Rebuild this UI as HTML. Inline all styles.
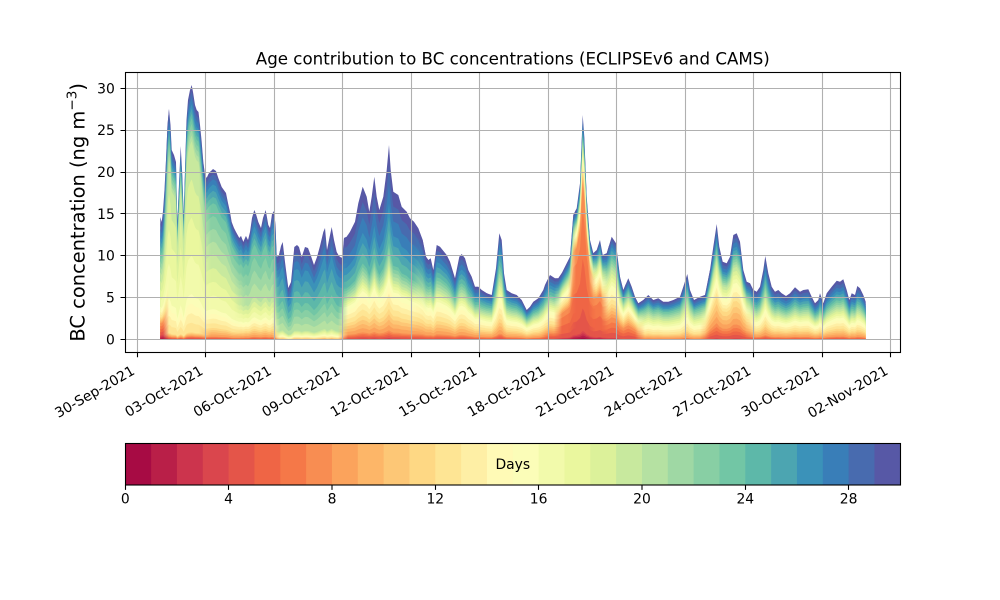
<!DOCTYPE html>
<html><head><meta charset="utf-8"><style>
html,body{margin:0;padding:0;background:#fff}
svg{display:block;font-family:"DejaVu Sans","Liberation Sans",sans-serif}
.k0{fill:#a70b44}.k1{fill:#b91f48}.k2{fill:#cc344d}.k3{fill:#da464d}.k4{fill:#e45549}.k5{fill:#ef6545}.k6{fill:#f57848}.k7{fill:#f88d52}.k8{fill:#fba35c}.k9{fill:#fdb668}.k10{fill:#fdc776}.k11{fill:#fed884}.k12{fill:#fee594}.k13{fill:#feefa5}.k14{fill:#fffab6}.k15{fill:#fbfdb8}.k16{fill:#f2faab}.k17{fill:#eaf79e}.k18{fill:#dcf19a}.k19{fill:#c8e99e}.k20{fill:#b5e1a2}.k21{fill:#9fd8a4}.k22{fill:#88cfa4}.k23{fill:#72c6a5}.k24{fill:#5db8a9}.k25{fill:#4ca5b1}.k26{fill:#3b92b9}.k27{fill:#397eb8}.k28{fill:#486baf}.k29{fill:#5758a6}
</style></head><body>
<svg width="1000" height="600" viewBox="0 0 1000 600" xmlns="http://www.w3.org/2000/svg">
<defs>
<path id="e" transform="translate(0 -340)" d="M160.3,340 L160.3,217 161.7,222 163,211 164.5,190 166,160 167.5,125 169,109 170.5,125 171.7,150 174,155 176,162 177.3,222 178.5,195 180.7,146 182.3,175 183.7,215 185.3,160 186.5,120 188,100 190,90 191.7,85 193,92 195,105 196.7,110 198.5,112 200,125 201.5,140 203.3,162 205,175 206.7,178 208.5,174 210,172 213,169 216,171 218.3,178 221.7,187 226,193 228,203 230,212 231.7,222 234,228 236,232 239.3,238 241,236 243.3,242 246,236 248,240 250,232 252,218 254.3,210 256,214 258.3,222 261,228 263,218 265.7,210 268.3,225 270,228 272,214 274,211 275.5,225 276.7,257 279,255 281,246 282.7,242 285,262 288.3,288 291,282 294.3,247 297,245 299,247 301.7,257 305,247 308,248 311,256 314,265 317,257 320,246 323.3,232 325,228 327,250 329,240 331.7,227 334,240 336.7,252 339,256 341.7,258 343,250 344,238 346.7,236.7 350,231.7 355,221.7 358.3,203.3 362.7,186.7 366.7,196.7 369.3,211.7 371.7,196.7 374.3,176.7 376.7,196.7 379.3,210 383.3,196.7 386.7,170 389,145 390.7,170 393.3,191.7 398.3,195 401.7,206.7 406.7,211.7 410,218.3 414,221.7 418.3,228.3 422.7,240 426,256.7 428.3,260 430.7,258.3 433.3,270 436.7,245 440,246.7 446.7,255 450,261.7 455,278.3 459.3,256.7 461.7,254 465,258.3 468.3,270 471.7,276.7 475,286.7 478.3,286.7 481.7,290 486.7,293.3 491.7,295 496,268.3 499.3,233.3 501.7,240 504,273.3 506.7,290 511.7,293.3 516.7,295 521.7,300 526.7,310 530,306.7 533.3,301.7 538.3,298.3 543.3,290 545,285 548.3,278.3 550,275 555,278.3 558.3,278.3 561.7,273.3 566.7,263.3 570,256.7 573.3,215 576.7,208.3 580,183.3 582.7,115 584.3,136.7 586.7,196.7 590,240 593.3,253.3 596.7,250 600,240 602.7,255 606.7,253.3 611.7,236.7 616,243.3 620,276.7 623.3,290 628.3,278.3 631.7,286.7 635,296.7 638.3,303.3 643.3,300 648.3,295 653.3,300 658.3,298.3 663.3,301.7 668.3,301.7 673.3,300 680,296.7 683.3,286.7 687.3,274 690,290 694,300 700,296.7 705,295 710,270 713.3,246.7 716.7,224 719.3,246.7 722.7,261.7 726.7,263.3 730,256.7 733.3,235 736.7,233.3 740,241.7 743.3,270 746.7,281.7 750,283.3 753.3,290 756.7,291.7 760,286.7 763.3,270 765.3,256 768.3,273.3 771.7,286.7 775,291.7 778.3,290 781.7,293.3 786,296 790,293.3 795,287.3 800,291.7 803.3,290 808.3,289.3 811.7,296.7 815,303.3 818.3,300 820,293.3 823.3,303.3 826.7,293.3 831.7,286.7 836.7,280.7 840,281.7 843.3,279.3 846.7,290 849.3,300 851.7,293.3 855,295 857.3,286 860,288.3 863.3,295 865.7,301.7 865.7,340 Z"/>
<linearGradient id="g2" gradientUnits="userSpaceOnUse" x1="163" y1="0" x2="169" y2="0"><stop offset="0" stop-color="#000"/><stop offset="1" stop-color="#fff"/></linearGradient>
<linearGradient id="g3" gradientUnits="userSpaceOnUse" x1="199" y1="0" x2="211" y2="0"><stop offset="0" stop-color="#000"/><stop offset="1" stop-color="#fff"/></linearGradient>
<linearGradient id="g4" gradientUnits="userSpaceOnUse" x1="234" y1="0" x2="246" y2="0"><stop offset="0" stop-color="#000"/><stop offset="1" stop-color="#fff"/></linearGradient>
<linearGradient id="g5" gradientUnits="userSpaceOnUse" x1="272" y1="0" x2="280" y2="0"><stop offset="0" stop-color="#000"/><stop offset="1" stop-color="#fff"/></linearGradient>
<linearGradient id="g6" gradientUnits="userSpaceOnUse" x1="338" y1="0" x2="348" y2="0"><stop offset="0" stop-color="#000"/><stop offset="1" stop-color="#fff"/></linearGradient>
<linearGradient id="g7" gradientUnits="userSpaceOnUse" x1="412" y1="0" x2="428" y2="0"><stop offset="0" stop-color="#000"/><stop offset="1" stop-color="#fff"/></linearGradient>
<linearGradient id="g8" gradientUnits="userSpaceOnUse" x1="472" y1="0" x2="488" y2="0"><stop offset="0" stop-color="#000"/><stop offset="1" stop-color="#fff"/></linearGradient>
<linearGradient id="g9" gradientUnits="userSpaceOnUse" x1="541" y1="0" x2="549" y2="0"><stop offset="0" stop-color="#000"/><stop offset="1" stop-color="#fff"/></linearGradient>
<linearGradient id="g10" gradientUnits="userSpaceOnUse" x1="554" y1="0" x2="562" y2="0"><stop offset="0" stop-color="#000"/><stop offset="1" stop-color="#fff"/></linearGradient>
<linearGradient id="g11" gradientUnits="userSpaceOnUse" x1="568" y1="0" x2="576" y2="0"><stop offset="0" stop-color="#000"/><stop offset="1" stop-color="#fff"/></linearGradient>
<linearGradient id="g12" gradientUnits="userSpaceOnUse" x1="588" y1="0" x2="596" y2="0"><stop offset="0" stop-color="#000"/><stop offset="1" stop-color="#fff"/></linearGradient>
<linearGradient id="g13" gradientUnits="userSpaceOnUse" x1="601" y1="0" x2="609" y2="0"><stop offset="0" stop-color="#000"/><stop offset="1" stop-color="#fff"/></linearGradient>
<linearGradient id="g14" gradientUnits="userSpaceOnUse" x1="618" y1="0" x2="626" y2="0"><stop offset="0" stop-color="#000"/><stop offset="1" stop-color="#fff"/></linearGradient>
<linearGradient id="g15" gradientUnits="userSpaceOnUse" x1="635" y1="0" x2="645" y2="0"><stop offset="0" stop-color="#000"/><stop offset="1" stop-color="#fff"/></linearGradient>
<linearGradient id="g16" gradientUnits="userSpaceOnUse" x1="700" y1="0" x2="710" y2="0"><stop offset="0" stop-color="#000"/><stop offset="1" stop-color="#fff"/></linearGradient>
<linearGradient id="g17" gradientUnits="userSpaceOnUse" x1="744" y1="0" x2="756" y2="0"><stop offset="0" stop-color="#000"/><stop offset="1" stop-color="#fff"/></linearGradient>
<mask id="m1" maskUnits="userSpaceOnUse" x="0" y="-400" width="1000" height="500"><rect x="155" y="-300" width="14" height="320" fill="#fff"/></mask>
<mask id="m2" maskUnits="userSpaceOnUse" x="0" y="-400" width="1000" height="500"><rect x="163" y="-300" width="48" height="320" fill="url(#g2)"/></mask>
<mask id="m3" maskUnits="userSpaceOnUse" x="0" y="-400" width="1000" height="500"><rect x="199" y="-300" width="47" height="320" fill="url(#g3)"/></mask>
<mask id="m4" maskUnits="userSpaceOnUse" x="0" y="-400" width="1000" height="500"><rect x="234" y="-300" width="46" height="320" fill="url(#g4)"/></mask>
<mask id="m5" maskUnits="userSpaceOnUse" x="0" y="-400" width="1000" height="500"><rect x="272" y="-300" width="76" height="320" fill="url(#g5)"/></mask>
<mask id="m6" maskUnits="userSpaceOnUse" x="0" y="-400" width="1000" height="500"><rect x="338" y="-300" width="90" height="320" fill="url(#g6)"/></mask>
<mask id="m7" maskUnits="userSpaceOnUse" x="0" y="-400" width="1000" height="500"><rect x="412" y="-300" width="76" height="320" fill="url(#g7)"/></mask>
<mask id="m8" maskUnits="userSpaceOnUse" x="0" y="-400" width="1000" height="500"><rect x="472" y="-300" width="77" height="320" fill="url(#g8)"/></mask>
<mask id="m9" maskUnits="userSpaceOnUse" x="0" y="-400" width="1000" height="500"><rect x="541" y="-300" width="21" height="320" fill="url(#g9)"/></mask>
<mask id="m10" maskUnits="userSpaceOnUse" x="0" y="-400" width="1000" height="500"><rect x="554" y="-300" width="22" height="320" fill="url(#g10)"/></mask>
<mask id="m11" maskUnits="userSpaceOnUse" x="0" y="-400" width="1000" height="500"><rect x="568" y="-300" width="28" height="320" fill="url(#g11)"/></mask>
<mask id="m12" maskUnits="userSpaceOnUse" x="0" y="-400" width="1000" height="500"><rect x="588" y="-300" width="21" height="320" fill="url(#g12)"/></mask>
<mask id="m13" maskUnits="userSpaceOnUse" x="0" y="-400" width="1000" height="500"><rect x="601" y="-300" width="25" height="320" fill="url(#g13)"/></mask>
<mask id="m14" maskUnits="userSpaceOnUse" x="0" y="-400" width="1000" height="500"><rect x="618" y="-300" width="27" height="320" fill="url(#g14)"/></mask>
<mask id="m15" maskUnits="userSpaceOnUse" x="0" y="-400" width="1000" height="500"><rect x="635" y="-300" width="75" height="320" fill="url(#g15)"/></mask>
<mask id="m16" maskUnits="userSpaceOnUse" x="0" y="-400" width="1000" height="500"><rect x="700" y="-300" width="56" height="320" fill="url(#g16)"/></mask>
<mask id="m17" maskUnits="userSpaceOnUse" x="0" y="-400" width="1000" height="500"><rect x="744" y="-300" width="126" height="320" fill="url(#g17)"/></mask>
</defs>
<rect width="1000" height="600" fill="#fff"/>

<g transform="translate(0 340)">
<g mask="url(#m1)">
<use href="#e" class="k29"/><use href="#e" class="k28" transform="scale(1 .95)"/><use href="#e" class="k27" transform="scale(1 .90)"/><use href="#e" class="k26" transform="scale(1 .85)"/><use href="#e" class="k25" transform="scale(1 .81)"/><use href="#e" class="k24" transform="scale(1 .77)"/><use href="#e" class="k23" transform="scale(1 .73)"/><use href="#e" class="k22" transform="scale(1 .685)"/><use href="#e" class="k21" transform="scale(1 .64)"/><use href="#e" class="k20" transform="scale(1 .595)"/><use href="#e" class="k19" transform="scale(1 .55)"/><use href="#e" class="k18" transform="scale(1 .48)"/><use href="#e" class="k17" transform="scale(1 .41)"/><use href="#e" class="k16" transform="scale(1 .34)"/><use href="#e" class="k15" transform="scale(1 .27)"/><use href="#e" class="k14" transform="scale(1 .25)"/><use href="#e" class="k13" transform="scale(1 .23)"/><use href="#e" class="k12" transform="scale(1 .21)"/><use href="#e" class="k11" transform="scale(1 .19)"/><use href="#e" class="k10" transform="scale(1 .1775)"/><use href="#e" class="k9" transform="scale(1 .165)"/><use href="#e" class="k8" transform="scale(1 .1525)"/><use href="#e" class="k7" transform="scale(1 .14)"/><use href="#e" class="k6" transform="scale(1 .115)"/><use href="#e" class="k5" transform="scale(1 .09)"/><use href="#e" class="k4" transform="scale(1 .065)"/><use href="#e" class="k3" transform="scale(1 .04)"/><use href="#e" class="k2" transform="scale(1 .03)"/><use href="#e" class="k1" transform="scale(1 .02)"/><use href="#e" class="k0" transform="scale(1 .01)"/>
</g>
<g mask="url(#m2)">
<use href="#e" class="k29"/><use href="#e" class="k28" transform="scale(1 .975)"/><use href="#e" class="k27" transform="scale(1 .95)"/><use href="#e" class="k26" transform="scale(1 .925)"/><use href="#e" class="k25" transform="scale(1 .907)"/><use href="#e" class="k24" transform="scale(1 .888)"/><use href="#e" class="k23" transform="scale(1 .87)"/><use href="#e" class="k22" transform="scale(1 .8475)"/><use href="#e" class="k21" transform="scale(1 .825)"/><use href="#e" class="k20" transform="scale(1 .8025)"/><use href="#e" class="k19" transform="scale(1 .78)"/><use href="#e" class="k18" transform="scale(1 .63)"/><use href="#e" class="k17" transform="scale(1 .48)"/><use href="#e" class="k16" transform="scale(1 .33)"/><use href="#e" class="k15" transform="scale(1 .18)"/><use href="#e" class="k14" transform="scale(1 .1425)"/><use href="#e" class="k13" transform="scale(1 .105)"/><use href="#e" class="k12" transform="scale(1 .0675)"/><use href="#e" class="k11" transform="scale(1 .03)"/><use href="#e" class="k10" transform="scale(1 .02625)"/><use href="#e" class="k9" transform="scale(1 .0225)"/><use href="#e" class="k8" transform="scale(1 .01875)"/><use href="#e" class="k7" transform="scale(1 .015)"/><use href="#e" class="k6" transform="scale(1 .0125)"/><use href="#e" class="k5" transform="scale(1 .01)"/><use href="#e" class="k4" transform="scale(1 .0075)"/><use href="#e" class="k3" transform="scale(1 .005)"/><use href="#e" class="k2" transform="scale(1 .00375)"/><use href="#e" class="k1" transform="scale(1 .0025)"/><use href="#e" class="k0" transform="scale(1 .00125)"/>
</g>
<g mask="url(#m3)">
<use href="#e" class="k29"/><use href="#e" class="k28" transform="scale(1 .97)"/><use href="#e" class="k27" transform="scale(1 .94)"/><use href="#e" class="k26" transform="scale(1 .91)"/><use href="#e" class="k25" transform="scale(1 .873)"/><use href="#e" class="k24" transform="scale(1 .837)"/><use href="#e" class="k23" transform="scale(1 .80)"/><use href="#e" class="k22" transform="scale(1 .725)"/><use href="#e" class="k21" transform="scale(1 .65)"/><use href="#e" class="k20" transform="scale(1 .575)"/><use href="#e" class="k19" transform="scale(1 .50)"/><use href="#e" class="k18" transform="scale(1 .42)"/><use href="#e" class="k17" transform="scale(1 .34)"/><use href="#e" class="k16" transform="scale(1 .26)"/><use href="#e" class="k15" transform="scale(1 .18)"/><use href="#e" class="k14" transform="scale(1 .1525)"/><use href="#e" class="k13" transform="scale(1 .125)"/><use href="#e" class="k12" transform="scale(1 .0975)"/><use href="#e" class="k11" transform="scale(1 .07)"/><use href="#e" class="k10" transform="scale(1 .0575)"/><use href="#e" class="k9" transform="scale(1 .045)"/><use href="#e" class="k8" transform="scale(1 .0325)"/><use href="#e" class="k7" transform="scale(1 .02)"/><use href="#e" class="k6" transform="scale(1 .01625)"/><use href="#e" class="k5" transform="scale(1 .0125)"/><use href="#e" class="k4" transform="scale(1 .00875)"/><use href="#e" class="k3" transform="scale(1 .005)"/><use href="#e" class="k2" transform="scale(1 .00375)"/><use href="#e" class="k1" transform="scale(1 .0025)"/><use href="#e" class="k0" transform="scale(1 .00125)"/>
</g>
<g mask="url(#m4)">
<use href="#e" class="k29"/><use href="#e" class="k28" transform="scale(1 .958)"/><use href="#e" class="k27" transform="scale(1 .917)"/><use href="#e" class="k26" transform="scale(1 .875)"/><use href="#e" class="k25" transform="scale(1 .828)"/><use href="#e" class="k24" transform="scale(1 .782)"/><use href="#e" class="k23" transform="scale(1 .735)"/><use href="#e" class="k22" transform="scale(1 .635)"/><use href="#e" class="k21" transform="scale(1 .535)"/><use href="#e" class="k20" transform="scale(1 .435)"/><use href="#e" class="k19" transform="scale(1 .335)"/><use href="#e" class="k18" transform="scale(1 .295)"/><use href="#e" class="k17" transform="scale(1 .255)"/><use href="#e" class="k16" transform="scale(1 .215)"/><use href="#e" class="k15" transform="scale(1 .175)"/><use href="#e" class="k14" transform="scale(1 .1525)"/><use href="#e" class="k13" transform="scale(1 .13)"/><use href="#e" class="k12" transform="scale(1 .1075)"/><use href="#e" class="k11" transform="scale(1 .085)"/><use href="#e" class="k10" transform="scale(1 .07)"/><use href="#e" class="k9" transform="scale(1 .055)"/><use href="#e" class="k8" transform="scale(1 .04)"/><use href="#e" class="k7" transform="scale(1 .025)"/><use href="#e" class="k6" transform="scale(1 .02)"/><use href="#e" class="k5" transform="scale(1 .015)"/><use href="#e" class="k4" transform="scale(1 .01)"/><use href="#e" class="k3" transform="scale(1 .005)"/><use href="#e" class="k2" transform="scale(1 .00375)"/><use href="#e" class="k1" transform="scale(1 .0025)"/><use href="#e" class="k0" transform="scale(1 .00125)"/>
</g>
<g mask="url(#m5)">
<use href="#e" class="k29"/><use href="#e" class="k28" transform="scale(1 .916)"/><use href="#e" class="k27" transform="scale(1 .832)"/><use href="#e" class="k26" transform="scale(1 .748)"/><use href="#e" class="k25" transform="scale(1 .632)"/><use href="#e" class="k24" transform="scale(1 .515)"/><use href="#e" class="k23" transform="scale(1 .398)"/><use href="#e" class="k22" transform="scale(1 .323)"/><use href="#e" class="k21" transform="scale(1 .248)"/><use href="#e" class="k20" transform="scale(1 .173)"/><use href="#e" class="k19" transform="scale(1 .098)"/><use href="#e" class="k18" transform="scale(1 .0855)"/><use href="#e" class="k17" transform="scale(1 .073)"/><use href="#e" class="k16" transform="scale(1 .0605)"/><use href="#e" class="k15" transform="scale(1 .048)"/><use href="#e" class="k14" transform="scale(1 .0405)"/><use href="#e" class="k13" transform="scale(1 .033)"/><use href="#e" class="k12" transform="scale(1 .0255)"/><use href="#e" class="k11" transform="scale(1 .018)"/><use href="#e" class="k10" transform="scale(1 .0155)"/><use href="#e" class="k9" transform="scale(1 .013)"/><use href="#e" class="k8" transform="scale(1 .0105)"/><use href="#e" class="k7" transform="scale(1 .008)"/><use href="#e" class="k6" transform="scale(1 .00675)"/><use href="#e" class="k5" transform="scale(1 .0055)"/><use href="#e" class="k4" transform="scale(1 .00425)"/><use href="#e" class="k3" transform="scale(1 .003)"/><use href="#e" class="k2" transform="scale(1 .00225)"/><use href="#e" class="k1" transform="scale(1 .0015)"/><use href="#e" class="k0" transform="scale(1 .00075)"/>
</g>
<g mask="url(#m6)">
<use href="#e" class="k29"/><use href="#e" class="k28" transform="scale(1 .90)"/><use href="#e" class="k27" transform="scale(1 .80)"/><use href="#e" class="k26" transform="scale(1 .70)"/><use href="#e" class="k25" transform="scale(1 .633)"/><use href="#e" class="k24" transform="scale(1 .567)"/><use href="#e" class="k23" transform="scale(1 .50)"/><use href="#e" class="k22" transform="scale(1 .475)"/><use href="#e" class="k21" transform="scale(1 .45)"/><use href="#e" class="k20" transform="scale(1 .425)"/><use href="#e" class="k19" transform="scale(1 .40)"/><use href="#e" class="k18" transform="scale(1 .38)"/><use href="#e" class="k17" transform="scale(1 .36)"/><use href="#e" class="k16" transform="scale(1 .34)"/><use href="#e" class="k15" transform="scale(1 .32)"/><use href="#e" class="k14" transform="scale(1 .28)"/><use href="#e" class="k13" transform="scale(1 .24)"/><use href="#e" class="k12" transform="scale(1 .20)"/><use href="#e" class="k11" transform="scale(1 .16)"/><use href="#e" class="k10" transform="scale(1 .1325)"/><use href="#e" class="k9" transform="scale(1 .105)"/><use href="#e" class="k8" transform="scale(1 .0775)"/><use href="#e" class="k7" transform="scale(1 .05)"/><use href="#e" class="k6" transform="scale(1 .04)"/><use href="#e" class="k5" transform="scale(1 .03)"/><use href="#e" class="k4" transform="scale(1 .02)"/><use href="#e" class="k3" transform="scale(1 .01)"/><use href="#e" class="k2" transform="scale(1 .0075)"/><use href="#e" class="k1" transform="scale(1 .005)"/><use href="#e" class="k0" transform="scale(1 .0025)"/>
</g>
<g mask="url(#m7)">
<use href="#e" class="k29"/><use href="#e" class="k28" transform="scale(1 .94)"/><use href="#e" class="k27" transform="scale(1 .88)"/><use href="#e" class="k26" transform="scale(1 .82)"/><use href="#e" class="k25" transform="scale(1 .767)"/><use href="#e" class="k24" transform="scale(1 .713)"/><use href="#e" class="k23" transform="scale(1 .66)"/><use href="#e" class="k22" transform="scale(1 .625)"/><use href="#e" class="k21" transform="scale(1 .59)"/><use href="#e" class="k20" transform="scale(1 .555)"/><use href="#e" class="k19" transform="scale(1 .52)"/><use href="#e" class="k18" transform="scale(1 .49)"/><use href="#e" class="k17" transform="scale(1 .46)"/><use href="#e" class="k16" transform="scale(1 .43)"/><use href="#e" class="k15" transform="scale(1 .40)"/><use href="#e" class="k14" transform="scale(1 .35)"/><use href="#e" class="k13" transform="scale(1 .30)"/><use href="#e" class="k12" transform="scale(1 .25)"/><use href="#e" class="k11" transform="scale(1 .20)"/><use href="#e" class="k10" transform="scale(1 .165)"/><use href="#e" class="k9" transform="scale(1 .13)"/><use href="#e" class="k8" transform="scale(1 .095)"/><use href="#e" class="k7" transform="scale(1 .06)"/><use href="#e" class="k6" transform="scale(1 .0475)"/><use href="#e" class="k5" transform="scale(1 .035)"/><use href="#e" class="k4" transform="scale(1 .0225)"/><use href="#e" class="k3" transform="scale(1 .01)"/><use href="#e" class="k2" transform="scale(1 .0075)"/><use href="#e" class="k1" transform="scale(1 .005)"/><use href="#e" class="k0" transform="scale(1 .0025)"/>
</g>
<g mask="url(#m8)">
<use href="#e" class="k29"/><use href="#e" class="k28" transform="scale(1 .95)"/><use href="#e" class="k27" transform="scale(1 .90)"/><use href="#e" class="k26" transform="scale(1 .85)"/><use href="#e" class="k25" transform="scale(1 .80)"/><use href="#e" class="k24" transform="scale(1 .75)"/><use href="#e" class="k23" transform="scale(1 .70)"/><use href="#e" class="k22" transform="scale(1 .6625)"/><use href="#e" class="k21" transform="scale(1 .625)"/><use href="#e" class="k20" transform="scale(1 .5875)"/><use href="#e" class="k19" transform="scale(1 .55)"/><use href="#e" class="k18" transform="scale(1 .5125)"/><use href="#e" class="k17" transform="scale(1 .475)"/><use href="#e" class="k16" transform="scale(1 .4375)"/><use href="#e" class="k15" transform="scale(1 .40)"/><use href="#e" class="k14" transform="scale(1 .35)"/><use href="#e" class="k13" transform="scale(1 .30)"/><use href="#e" class="k12" transform="scale(1 .25)"/><use href="#e" class="k11" transform="scale(1 .20)"/><use href="#e" class="k10" transform="scale(1 .165)"/><use href="#e" class="k9" transform="scale(1 .13)"/><use href="#e" class="k8" transform="scale(1 .095)"/><use href="#e" class="k7" transform="scale(1 .06)"/><use href="#e" class="k6" transform="scale(1 .0475)"/><use href="#e" class="k5" transform="scale(1 .035)"/><use href="#e" class="k4" transform="scale(1 .0225)"/><use href="#e" class="k3" transform="scale(1 .01)"/><use href="#e" class="k2" transform="scale(1 .0075)"/><use href="#e" class="k1" transform="scale(1 .005)"/><use href="#e" class="k0" transform="scale(1 .0025)"/>
</g>
<g mask="url(#m9)">
<use href="#e" class="k29"/><use href="#e" class="k28" transform="scale(1 .948)"/><use href="#e" class="k27" transform="scale(1 .897)"/><use href="#e" class="k26" transform="scale(1 .845)"/><use href="#e" class="k25" transform="scale(1 .795)"/><use href="#e" class="k24" transform="scale(1 .745)"/><use href="#e" class="k23" transform="scale(1 .695)"/><use href="#e" class="k22" transform="scale(1 .665)"/><use href="#e" class="k21" transform="scale(1 .635)"/><use href="#e" class="k20" transform="scale(1 .605)"/><use href="#e" class="k19" transform="scale(1 .575)"/><use href="#e" class="k18" transform="scale(1 .5425)"/><use href="#e" class="k17" transform="scale(1 .51)"/><use href="#e" class="k16" transform="scale(1 .4775)"/><use href="#e" class="k15" transform="scale(1 .445)"/><use href="#e" class="k14" transform="scale(1 .395)"/><use href="#e" class="k13" transform="scale(1 .345)"/><use href="#e" class="k12" transform="scale(1 .295)"/><use href="#e" class="k11" transform="scale(1 .245)"/><use href="#e" class="k10" transform="scale(1 .2125)"/><use href="#e" class="k9" transform="scale(1 .18)"/><use href="#e" class="k8" transform="scale(1 .1475)"/><use href="#e" class="k7" transform="scale(1 .115)"/><use href="#e" class="k6" transform="scale(1 .09)"/><use href="#e" class="k5" transform="scale(1 .065)"/><use href="#e" class="k4" transform="scale(1 .04)"/><use href="#e" class="k3" transform="scale(1 .015)"/><use href="#e" class="k2" transform="scale(1 .01125)"/><use href="#e" class="k1" transform="scale(1 .0075)"/><use href="#e" class="k0" transform="scale(1 .00375)"/>
</g>
<g mask="url(#m10)">
<use href="#e" class="k29"/><use href="#e" class="k28" transform="scale(1 .967)"/><use href="#e" class="k27" transform="scale(1 .933)"/><use href="#e" class="k26" transform="scale(1 .90)"/><use href="#e" class="k25" transform="scale(1 .873)"/><use href="#e" class="k24" transform="scale(1 .847)"/><use href="#e" class="k23" transform="scale(1 .82)"/><use href="#e" class="k22" transform="scale(1 .80)"/><use href="#e" class="k21" transform="scale(1 .78)"/><use href="#e" class="k20" transform="scale(1 .76)"/><use href="#e" class="k19" transform="scale(1 .74)"/><use href="#e" class="k18" transform="scale(1 .715)"/><use href="#e" class="k17" transform="scale(1 .69)"/><use href="#e" class="k16" transform="scale(1 .665)"/><use href="#e" class="k15" transform="scale(1 .64)"/><use href="#e" class="k14" transform="scale(1 .605)"/><use href="#e" class="k13" transform="scale(1 .57)"/><use href="#e" class="k12" transform="scale(1 .535)"/><use href="#e" class="k11" transform="scale(1 .50)"/><use href="#e" class="k10" transform="scale(1 .475)"/><use href="#e" class="k9" transform="scale(1 .45)"/><use href="#e" class="k8" transform="scale(1 .425)"/><use href="#e" class="k7" transform="scale(1 .40)"/><use href="#e" class="k6" transform="scale(1 .33)"/><use href="#e" class="k5" transform="scale(1 .21)"/><use href="#e" class="k4" transform="scale(1 .09)"/><use href="#e" class="k3" transform="scale(1 .03)"/><use href="#e" class="k2" transform="scale(1 .0225)"/><use href="#e" class="k1" transform="scale(1 .015)"/><use href="#e" class="k0" transform="scale(1 .0075)"/>
</g>
<g mask="url(#m11)">
<use href="#e" class="k29"/><use href="#e" class="k28" transform="scale(1 .983)"/><use href="#e" class="k27" transform="scale(1 .967)"/><use href="#e" class="k26" transform="scale(1 .95)"/><use href="#e" class="k25" transform="scale(1 .937)"/><use href="#e" class="k24" transform="scale(1 .923)"/><use href="#e" class="k23" transform="scale(1 .91)"/><use href="#e" class="k22" transform="scale(1 .90)"/><use href="#e" class="k21" transform="scale(1 .89)"/><use href="#e" class="k20" transform="scale(1 .88)"/><use href="#e" class="k19" transform="scale(1 .87)"/><use href="#e" class="k18" transform="scale(1 .8575)"/><use href="#e" class="k17" transform="scale(1 .845)"/><use href="#e" class="k16" transform="scale(1 .8325)"/><use href="#e" class="k15" transform="scale(1 .82)"/><use href="#e" class="k14" transform="scale(1 .805)"/><use href="#e" class="k13" transform="scale(1 .79)"/><use href="#e" class="k12" transform="scale(1 .775)"/><use href="#e" class="k11" transform="scale(1 .76)"/><use href="#e" class="k10" transform="scale(1 .745)"/><use href="#e" class="k9" transform="scale(1 .73)"/><use href="#e" class="k8" transform="scale(1 .715)"/><use href="#e" class="k7" transform="scale(1 .70)"/><use href="#e" class="k6" transform="scale(1 .58)"/><use href="#e" class="k5" transform="scale(1 .36)"/><use href="#e" class="k4" transform="scale(1 .14)"/><use href="#e" class="k3" transform="scale(1 .04)"/><use href="#e" class="k2" transform="scale(1 .03)"/><use href="#e" class="k1" transform="scale(1 .02)"/><use href="#e" class="k0" transform="scale(1 .01)"/>
</g>
<g mask="url(#m12)">
<use href="#e" class="k29"/><use href="#e" class="k28" transform="scale(1 .977)"/><use href="#e" class="k27" transform="scale(1 .953)"/><use href="#e" class="k26" transform="scale(1 .93)"/><use href="#e" class="k25" transform="scale(1 .907)"/><use href="#e" class="k24" transform="scale(1 .883)"/><use href="#e" class="k23" transform="scale(1 .86)"/><use href="#e" class="k22" transform="scale(1 .8425)"/><use href="#e" class="k21" transform="scale(1 .825)"/><use href="#e" class="k20" transform="scale(1 .8075)"/><use href="#e" class="k19" transform="scale(1 .79)"/><use href="#e" class="k18" transform="scale(1 .765)"/><use href="#e" class="k17" transform="scale(1 .74)"/><use href="#e" class="k16" transform="scale(1 .715)"/><use href="#e" class="k15" transform="scale(1 .69)"/><use href="#e" class="k14" transform="scale(1 .66)"/><use href="#e" class="k13" transform="scale(1 .63)"/><use href="#e" class="k12" transform="scale(1 .60)"/><use href="#e" class="k11" transform="scale(1 .57)"/><use href="#e" class="k10" transform="scale(1 .545)"/><use href="#e" class="k9" transform="scale(1 .52)"/><use href="#e" class="k8" transform="scale(1 .495)"/><use href="#e" class="k7" transform="scale(1 .47)"/><use href="#e" class="k6" transform="scale(1 .39)"/><use href="#e" class="k5" transform="scale(1 .24)"/><use href="#e" class="k4" transform="scale(1 .10)"/><use href="#e" class="k3" transform="scale(1 .03)"/><use href="#e" class="k2" transform="scale(1 .0225)"/><use href="#e" class="k1" transform="scale(1 .015)"/><use href="#e" class="k0" transform="scale(1 .0075)"/>
</g>
<g mask="url(#m13)">
<use href="#e" class="k29"/><use href="#e" class="k28" transform="scale(1 .967)"/><use href="#e" class="k27" transform="scale(1 .933)"/><use href="#e" class="k26" transform="scale(1 .90)"/><use href="#e" class="k25" transform="scale(1 .867)"/><use href="#e" class="k24" transform="scale(1 .833)"/><use href="#e" class="k23" transform="scale(1 .80)"/><use href="#e" class="k22" transform="scale(1 .77)"/><use href="#e" class="k21" transform="scale(1 .74)"/><use href="#e" class="k20" transform="scale(1 .71)"/><use href="#e" class="k19" transform="scale(1 .68)"/><use href="#e" class="k18" transform="scale(1 .6425)"/><use href="#e" class="k17" transform="scale(1 .605)"/><use href="#e" class="k16" transform="scale(1 .5675)"/><use href="#e" class="k15" transform="scale(1 .53)"/><use href="#e" class="k14" transform="scale(1 .485)"/><use href="#e" class="k13" transform="scale(1 .44)"/><use href="#e" class="k12" transform="scale(1 .395)"/><use href="#e" class="k11" transform="scale(1 .35)"/><use href="#e" class="k10" transform="scale(1 .3175)"/><use href="#e" class="k9" transform="scale(1 .285)"/><use href="#e" class="k8" transform="scale(1 .2525)"/><use href="#e" class="k7" transform="scale(1 .22)"/><use href="#e" class="k6" transform="scale(1 .17)"/><use href="#e" class="k5" transform="scale(1 .12)"/><use href="#e" class="k4" transform="scale(1 .07)"/><use href="#e" class="k3" transform="scale(1 .02)"/><use href="#e" class="k2" transform="scale(1 .015)"/><use href="#e" class="k1" transform="scale(1 .01)"/><use href="#e" class="k0" transform="scale(1 .005)"/>
</g>
<g mask="url(#m14)">
<use href="#e" class="k29"/><use href="#e" class="k28" transform="scale(1 .96)"/><use href="#e" class="k27" transform="scale(1 .92)"/><use href="#e" class="k26" transform="scale(1 .88)"/><use href="#e" class="k25" transform="scale(1 .847)"/><use href="#e" class="k24" transform="scale(1 .813)"/><use href="#e" class="k23" transform="scale(1 .78)"/><use href="#e" class="k22" transform="scale(1 .75)"/><use href="#e" class="k21" transform="scale(1 .72)"/><use href="#e" class="k20" transform="scale(1 .69)"/><use href="#e" class="k19" transform="scale(1 .66)"/><use href="#e" class="k18" transform="scale(1 .63)"/><use href="#e" class="k17" transform="scale(1 .60)"/><use href="#e" class="k16" transform="scale(1 .57)"/><use href="#e" class="k15" transform="scale(1 .54)"/><use href="#e" class="k14" transform="scale(1 .5025)"/><use href="#e" class="k13" transform="scale(1 .465)"/><use href="#e" class="k12" transform="scale(1 .4275)"/><use href="#e" class="k11" transform="scale(1 .39)"/><use href="#e" class="k10" transform="scale(1 .3525)"/><use href="#e" class="k9" transform="scale(1 .315)"/><use href="#e" class="k8" transform="scale(1 .2775)"/><use href="#e" class="k7" transform="scale(1 .24)"/><use href="#e" class="k6" transform="scale(1 .185)"/><use href="#e" class="k5" transform="scale(1 .13)"/><use href="#e" class="k4" transform="scale(1 .075)"/><use href="#e" class="k3" transform="scale(1 .02)"/><use href="#e" class="k2" transform="scale(1 .015)"/><use href="#e" class="k1" transform="scale(1 .01)"/><use href="#e" class="k0" transform="scale(1 .005)"/>
</g>
<g mask="url(#m15)">
<use href="#e" class="k29"/><use href="#e" class="k28" transform="scale(1 .95)"/><use href="#e" class="k27" transform="scale(1 .90)"/><use href="#e" class="k26" transform="scale(1 .85)"/><use href="#e" class="k25" transform="scale(1 .81)"/><use href="#e" class="k24" transform="scale(1 .77)"/><use href="#e" class="k23" transform="scale(1 .73)"/><use href="#e" class="k22" transform="scale(1 .685)"/><use href="#e" class="k21" transform="scale(1 .64)"/><use href="#e" class="k20" transform="scale(1 .595)"/><use href="#e" class="k19" transform="scale(1 .55)"/><use href="#e" class="k18" transform="scale(1 .50)"/><use href="#e" class="k17" transform="scale(1 .45)"/><use href="#e" class="k16" transform="scale(1 .40)"/><use href="#e" class="k15" transform="scale(1 .35)"/><use href="#e" class="k14" transform="scale(1 .30)"/><use href="#e" class="k13" transform="scale(1 .25)"/><use href="#e" class="k12" transform="scale(1 .20)"/><use href="#e" class="k11" transform="scale(1 .15)"/><use href="#e" class="k10" transform="scale(1 .12125)"/><use href="#e" class="k9" transform="scale(1 .0925)"/><use href="#e" class="k8" transform="scale(1 .06375)"/><use href="#e" class="k7" transform="scale(1 .035)"/><use href="#e" class="k6" transform="scale(1 .0275)"/><use href="#e" class="k5" transform="scale(1 .02)"/><use href="#e" class="k4" transform="scale(1 .0125)"/><use href="#e" class="k3" transform="scale(1 .005)"/><use href="#e" class="k2" transform="scale(1 .00375)"/><use href="#e" class="k1" transform="scale(1 .0025)"/><use href="#e" class="k0" transform="scale(1 .00125)"/>
</g>
<g mask="url(#m16)">
<use href="#e" class="k29"/><use href="#e" class="k28" transform="scale(1 .958)"/><use href="#e" class="k27" transform="scale(1 .917)"/><use href="#e" class="k26" transform="scale(1 .875)"/><use href="#e" class="k25" transform="scale(1 .845)"/><use href="#e" class="k24" transform="scale(1 .815)"/><use href="#e" class="k23" transform="scale(1 .785)"/><use href="#e" class="k22" transform="scale(1 .76)"/><use href="#e" class="k21" transform="scale(1 .735)"/><use href="#e" class="k20" transform="scale(1 .71)"/><use href="#e" class="k19" transform="scale(1 .685)"/><use href="#e" class="k18" transform="scale(1 .6475)"/><use href="#e" class="k17" transform="scale(1 .61)"/><use href="#e" class="k16" transform="scale(1 .5725)"/><use href="#e" class="k15" transform="scale(1 .535)"/><use href="#e" class="k14" transform="scale(1 .4925)"/><use href="#e" class="k13" transform="scale(1 .45)"/><use href="#e" class="k12" transform="scale(1 .4075)"/><use href="#e" class="k11" transform="scale(1 .365)"/><use href="#e" class="k10" transform="scale(1 .31)"/><use href="#e" class="k9" transform="scale(1 .255)"/><use href="#e" class="k8" transform="scale(1 .20)"/><use href="#e" class="k7" transform="scale(1 .145)"/><use href="#e" class="k6" transform="scale(1 .1125)"/><use href="#e" class="k5" transform="scale(1 .08)"/><use href="#e" class="k4" transform="scale(1 .0475)"/><use href="#e" class="k3" transform="scale(1 .015)"/><use href="#e" class="k2" transform="scale(1 .01125)"/><use href="#e" class="k1" transform="scale(1 .0075)"/><use href="#e" class="k0" transform="scale(1 .00375)"/>
</g>
<g mask="url(#m17)">
<use href="#e" class="k29"/><use href="#e" class="k28" transform="scale(1 .94)"/><use href="#e" class="k27" transform="scale(1 .88)"/><use href="#e" class="k26" transform="scale(1 .82)"/><use href="#e" class="k25" transform="scale(1 .77)"/><use href="#e" class="k24" transform="scale(1 .72)"/><use href="#e" class="k23" transform="scale(1 .67)"/><use href="#e" class="k22" transform="scale(1 .6325)"/><use href="#e" class="k21" transform="scale(1 .595)"/><use href="#e" class="k20" transform="scale(1 .5575)"/><use href="#e" class="k19" transform="scale(1 .52)"/><use href="#e" class="k18" transform="scale(1 .4825)"/><use href="#e" class="k17" transform="scale(1 .445)"/><use href="#e" class="k16" transform="scale(1 .4075)"/><use href="#e" class="k15" transform="scale(1 .37)"/><use href="#e" class="k14" transform="scale(1 .325)"/><use href="#e" class="k13" transform="scale(1 .28)"/><use href="#e" class="k12" transform="scale(1 .235)"/><use href="#e" class="k11" transform="scale(1 .19)"/><use href="#e" class="k10" transform="scale(1 .1575)"/><use href="#e" class="k9" transform="scale(1 .125)"/><use href="#e" class="k8" transform="scale(1 .0925)"/><use href="#e" class="k7" transform="scale(1 .06)"/><use href="#e" class="k6" transform="scale(1 .0475)"/><use href="#e" class="k5" transform="scale(1 .035)"/><use href="#e" class="k4" transform="scale(1 .0225)"/><use href="#e" class="k3" transform="scale(1 .01)"/><use href="#e" class="k2" transform="scale(1 .0075)"/><use href="#e" class="k1" transform="scale(1 .005)"/><use href="#e" class="k0" transform="scale(1 .0025)"/>
</g>
</g>

<g stroke="#b0b0b0" stroke-width="1.1" fill="none">
<path d="M125.3,339.5H900.3M125.3,297.5H900.3M125.3,255.5H900.3M125.3,213.5H900.3M125.3,172.5H900.3M125.3,130.5H900.3M125.3,88.5H900.3"/>
<path d="M137.5,72.3V352.3M205.5,72.3V352.3M274.5,72.3V352.3M342.5,72.3V352.3M411.5,72.3V352.3M479.5,72.3V352.3M548.5,72.3V352.3M616.5,72.3V352.3M685.5,72.3V352.3M753.5,72.3V352.3M822.5,72.3V352.3M890.5,72.3V352.3"/>
</g>

<rect x="125.5" y="72.5" width="775" height="280" fill="none" stroke="#000" stroke-width="1.1"/>
<g stroke="#000" stroke-width="1.1">
<path d="M120.5,339.5H125.3M120.5,297.5H125.3M120.5,255.5H125.3M120.5,213.5H125.3M120.5,172.5H125.3M120.5,130.5H125.3M120.5,88.5H125.3"/>
<path d="M137.5,352.5V357.3M205.5,352.5V357.3M274.5,352.5V357.3M342.5,352.5V357.3M411.5,352.5V357.3M479.5,352.5V357.3M548.5,352.5V357.3M616.5,352.5V357.3M685.5,352.5V357.3M753.5,352.5V357.3M822.5,352.5V357.3M890.5,352.5V357.3"/>
</g>

<g font-size="13.9" text-anchor="end" fill="#000">
<text x="114.8" y="344.5">0</text>
<text x="114.8" y="302.5">5</text>
<text x="114.8" y="260.6">10</text>
<text x="114.8" y="218.8">15</text>
<text x="114.8" y="177">20</text>
<text x="114.8" y="135.1">25</text>
<text x="114.8" y="93.3">30</text>
</g>

<g font-size="13.9" text-anchor="end" fill="#000">
<text transform="translate(135.6 373.5) rotate(-30)">30-Sep-2021</text>
<text transform="translate(204.1 373.5) rotate(-30)">03-Oct-2021</text>
<text transform="translate(272.6 373.5) rotate(-30)">06-Oct-2021</text>
<text transform="translate(341.1 373.5) rotate(-30)">09-Oct-2021</text>
<text transform="translate(409.6 373.5) rotate(-30)">12-Oct-2021</text>
<text transform="translate(478.1 373.5) rotate(-30)">15-Oct-2021</text>
<text transform="translate(546.6 373.5) rotate(-30)">18-Oct-2021</text>
<text transform="translate(615.1 373.5) rotate(-30)">21-Oct-2021</text>
<text transform="translate(683.6 373.5) rotate(-30)">24-Oct-2021</text>
<text transform="translate(752.1 373.5) rotate(-30)">27-Oct-2021</text>
<text transform="translate(820.6 373.5) rotate(-30)">30-Oct-2021</text>
<text transform="translate(889 373.5) rotate(-30)">02-Nov-2021</text>
</g>

<text transform="translate(84.3 212.3) rotate(-90)" text-anchor="middle" font-size="19.44" fill="#000">BC concentration (ng m<tspan dy="-7.7" font-size="13.6">−3</tspan><tspan dy="7.7">)</tspan></text>

<text x="512.8" y="64.7" text-anchor="middle" font-size="16.67" fill="#000">Age contribution to BC concentrations (ECLIPSEv6 and CAMS)</text>

<g>
<rect x="125.3" y="443.3" width="26.2" height="41.7" class="k0"/>
<rect x="151.13" y="443.3" width="26.2" height="41.7" class="k1"/>
<rect x="176.97" y="443.3" width="26.2" height="41.7" class="k2"/>
<rect x="202.8" y="443.3" width="26.2" height="41.7" class="k3"/>
<rect x="228.63" y="443.3" width="26.2" height="41.7" class="k4"/>
<rect x="254.47" y="443.3" width="26.2" height="41.7" class="k5"/>
<rect x="280.3" y="443.3" width="26.2" height="41.7" class="k6"/>
<rect x="306.13" y="443.3" width="26.2" height="41.7" class="k7"/>
<rect x="331.97" y="443.3" width="26.2" height="41.7" class="k8"/>
<rect x="357.8" y="443.3" width="26.2" height="41.7" class="k9"/>
<rect x="383.63" y="443.3" width="26.2" height="41.7" class="k10"/>
<rect x="409.47" y="443.3" width="26.2" height="41.7" class="k11"/>
<rect x="435.3" y="443.3" width="26.2" height="41.7" class="k12"/>
<rect x="461.13" y="443.3" width="26.2" height="41.7" class="k13"/>
<rect x="486.97" y="443.3" width="26.2" height="41.7" class="k14"/>
<rect x="512.8" y="443.3" width="26.2" height="41.7" class="k15"/>
<rect x="538.63" y="443.3" width="26.2" height="41.7" class="k16"/>
<rect x="564.47" y="443.3" width="26.2" height="41.7" class="k17"/>
<rect x="590.3" y="443.3" width="26.2" height="41.7" class="k18"/>
<rect x="616.13" y="443.3" width="26.2" height="41.7" class="k19"/>
<rect x="641.97" y="443.3" width="26.2" height="41.7" class="k20"/>
<rect x="667.8" y="443.3" width="26.2" height="41.7" class="k21"/>
<rect x="693.63" y="443.3" width="26.2" height="41.7" class="k22"/>
<rect x="719.47" y="443.3" width="26.2" height="41.7" class="k23"/>
<rect x="745.3" y="443.3" width="26.2" height="41.7" class="k24"/>
<rect x="771.13" y="443.3" width="26.2" height="41.7" class="k25"/>
<rect x="796.97" y="443.3" width="26.2" height="41.7" class="k26"/>
<rect x="822.8" y="443.3" width="26.2" height="41.7" class="k27"/>
<rect x="848.63" y="443.3" width="26.2" height="41.7" class="k28"/>
<rect x="874.47" y="443.3" width="25.83" height="41.7" class="k29"/>
</g>
<rect x="125.5" y="443.5" width="775" height="41.5" fill="none" stroke="#000" stroke-width="1.1"/>
<path d="M125.5,485V489.9M228.5,485V489.9M332,485V489.9M435.5,485V489.9M538.5,485V489.9M642,485V489.9M745.5,485V489.9M848.5,485V489.9" stroke="#000" stroke-width="1.1"/>
<g font-size="13.9" text-anchor="middle" fill="#000">
<text x="125.3" y="503.5">0</text>
<text x="228.6" y="503.5">4</text>
<text x="332" y="503.5">8</text>
<text x="435.3" y="503.5">12</text>
<text x="538.6" y="503.5">16</text>
<text x="642" y="503.5">20</text>
<text x="745.3" y="503.5">24</text>
<text x="848.6" y="503.5">28</text>
<text x="512.8" y="469">Days</text>
</g>
</svg>
</body></html>
